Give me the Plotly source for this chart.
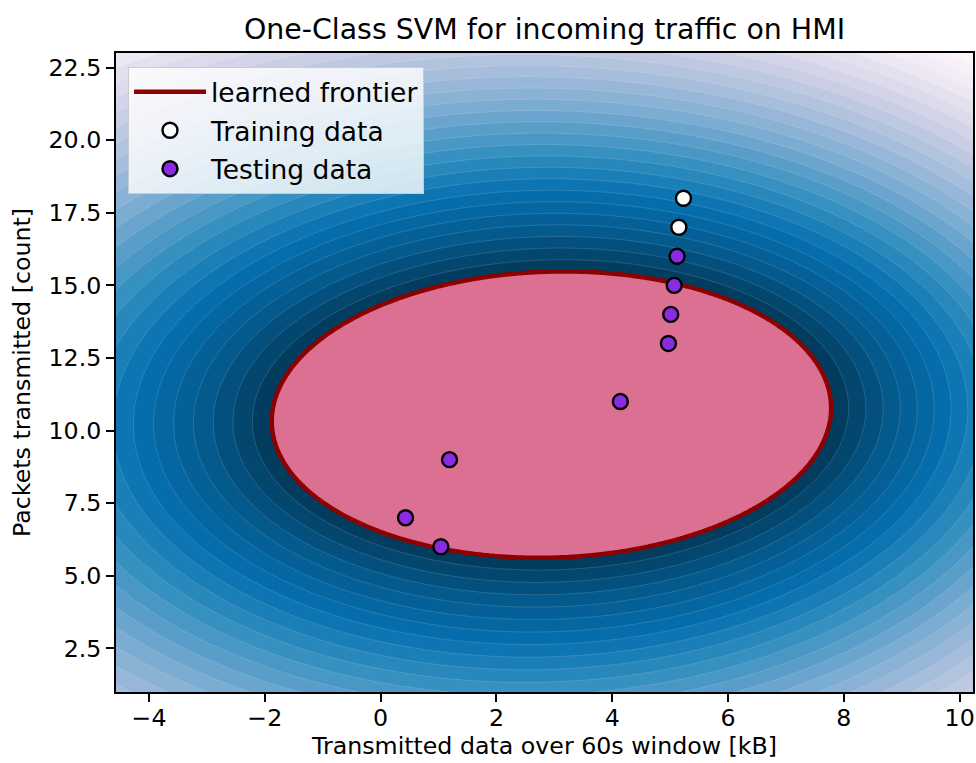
import numpy as np
import plotly.graph_objects as go

# ---------------- data ----------------
title_text = "One-Class SVM for incoming traffic on HMI"
x_label = "Transmitted data over 60s window [kB]"
y_label = "Packets transmitted [count]"

train_x = [5.15, 5.23]
train_y = [17, 18]
test_x = [0.43, 1.04, 1.19, 4.14, 4.97, 5.01, 5.07, 5.12]
test_y = [7, 6, 9, 11, 13, 14, 15, 16]

x_range = [-4.57, 10.23]
y_range = [1.0, 23.0]
x_ticks = [-4, -2, 0, 2, 4, 6, 8, 10]
y_ticks = [2.5, 5.0, 7.5, 10.0, 12.5, 15.0, 17.5, 20.0, 22.5]

# learned frontier (decision function = 0)
frontier_center = (2.95, 10.55)
frontier_half_width = 4.83
frontier_half_height = 4.93
frontier_top_shift = 0.22      # x offset of the topmost frontier point
far_y_scale = 1.3
far_skew = (0.01, 0.004)
n_bands = 28

# PuBu colormap (matplotlib)
pubu = ["#fff7fb", "#ece7f2", "#d0d1e6", "#a6bddb", "#74a9cf",
        "#3690c0", "#0570b0", "#045a8d", "#023858"]


def hex2rgb(h):
    h = h.lstrip('#')
    return np.array([int(h[i:i + 2], 16) for i in (0, 2, 4)], dtype=float)


pubu_rgb = np.array([hex2rgb(c) for c in pubu])


def cmap(f):
    pos = np.linspace(0, 1, len(pubu))
    return [np.interp(f, pos, pubu_rgb[:, k]) for k in range(3)]


# ---------------- decision surface ----------------
xs = np.linspace(x_range[0], x_range[1], 320)
ys = np.linspace(y_range[0], y_range[1], 320)
gx, gy = np.meshgrid(xs, ys)
dx = gx - frontier_center[0]
dy = gy - frontier_center[1]
Pxx = frontier_half_width ** 2
Pyy = frontier_half_height ** 2
Pxy = frontier_top_shift * frontier_half_height
Minv = np.linalg.inv(np.array([[Pxx, Pxy], [Pxy, Pyy]]))
D = np.sqrt(Minv[0, 0] * dx ** 2 + 2 * Minv[0, 1] * dx * dy + Minv[1, 1] * dy ** 2) + 1e-9
r = np.hypot(dx, dy / far_y_scale)
Z = -(r - r / D) * np.exp(far_skew[0] * dx + far_skew[1] * dy)

zmin = float(Z.min())
size = -zmin / n_bands
nc = n_bands + 1
colorscale = []
for j in range(nc + 1):
    if j == nc:
        col = "rgb(219,112,147)"  # palevioletred
    else:
        f = (max(j, 1) - 0.5) / n_bands
        c = cmap(f)
        col = "rgb(%d,%d,%d)" % tuple(int(round(x)) for x in c)
    colorscale.append([j / nc, col])

fig = go.Figure()
fig.add_trace(go.Contour(
    x=xs, y=ys, z=Z,
    autocontour=False,
    contours=dict(start=zmin, end=0.0, size=size, coloring="fill"),
    colorscale=colorscale,
    line=dict(color="rgba(255,255,255,0.28)", width=0.5),
    showscale=False, showlegend=False, hoverinfo="skip",
))
fig.add_trace(go.Contour(
    x=xs, y=ys, z=Z,
    autocontour=False,
    contours=dict(start=0.0, end=0.0, size=1.0, coloring="none"),
    line=dict(color="darkred", width=4.5),
    showscale=False, showlegend=False, hoverinfo="skip",
))
# legend entries
fig.add_trace(go.Scatter(
    x=[None], y=[None], mode="lines", name="learned frontier",
    line=dict(color="darkred", width=4.5), legendgroup="a",
))
fig.add_trace(go.Scatter(
    x=train_x, y=train_y, mode="markers", name="Training data",
    marker=dict(color="white", size=15, line=dict(color="black", width=2.4)),
    legendgroup="b",
))
fig.add_trace(go.Scatter(
    x=test_x, y=test_y, mode="markers", name="Testing data",
    marker=dict(color="blueviolet", size=15, line=dict(color="black", width=2.4)),
    legendgroup="c",
))

font_family = "DejaVu Sans"
fig.update_layout(
    width=976, height=763,
    margin=dict(l=116, r=3, t=53, b=71, autoexpand=False),
    paper_bgcolor="white", plot_bgcolor="white",
    font=dict(family=font_family, size=23.7, color="black"),
    title=dict(text=title_text, x=0.5, xref="paper", xanchor="center",
               y=1 - 29 / 763, yref="container", yanchor="middle",
               font=dict(size=28.4, family=font_family, color="black")),
    legend=dict(x=0.014, y=0.978, xanchor="left", yanchor="top",
                bgcolor="rgba(255,255,255,0.8)", bordercolor="#cccccc",
                borderwidth=1, font=dict(size=26.5, family=font_family),
                tracegroupgap=1, itemwidth=72),
    showlegend=True,
)
axis_common = dict(showline=True, linecolor="black", linewidth=1.9, mirror=True,
                   ticks="outside", ticklen=8, tickwidth=1.9, tickcolor="black",
                   showgrid=False, zeroline=False, automargin=False,
                   tickfont=dict(size=23.7, family=font_family, color="black"))
fig.update_xaxes(range=x_range, tickvals=x_ticks, **axis_common,
                 ticklabelstandoff=-4,
                 title=dict(text=x_label, standoff=4,
                            font=dict(size=23.7, family=font_family)))
fig.update_yaxes(range=y_range, tickvals=y_ticks,
                 ticktext=["%.1f" % t for t in y_ticks], **axis_common,
                 title=dict(text=y_label, standoff=11,
                            font=dict(size=23.7, family=font_family)))

fig.write_html("out.html", config={"displayModeBar": False},
               post_script="document.body.style.margin='0';document.body.style.padding='0';")
